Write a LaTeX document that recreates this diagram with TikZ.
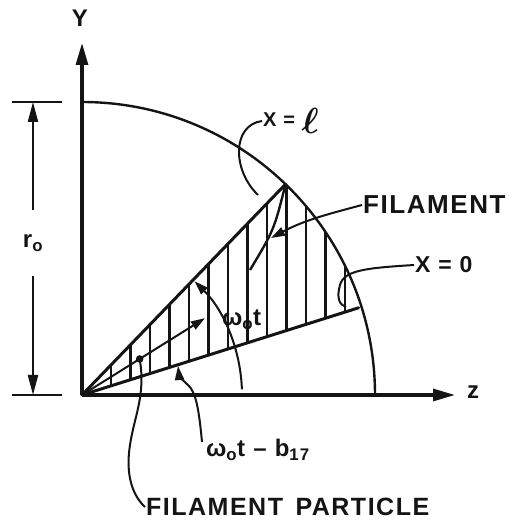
\documentclass[tikz,border=0pt]{standalone}
\usepackage{fontspec}
\setmainfont{Liberation Sans}[LetterSpace=6]
\usetikzlibrary{arrows.meta}
\definecolor{ink}{HTML}{141414}

\begin{document}
\begin{tikzpicture}[
  x=1pt, y=1pt,
  font=\bfseries\fontsize{24}{28}\selectfont,
  >={Triangle[length=14pt,width=9pt]},
  axis/.style={line width=3.1pt, ink, -{Triangle[length=22pt,width=12pt]}},
  side/.style={line width=3pt, ink, line cap=round},
  rim/.style={line width=2.4pt, ink},
  hatch/.style={line width=2.2pt, ink},
  lead/.style={line width=2pt, ink},
  dim/.style={line width=2.1pt, ink, -{Triangle[length=20pt,width=10pt]}},
  lab/.style={inner sep=1pt, text=ink, anchor=west}
]
\useasboundingbox (-82,-126) rectangle (444,395);
\coordinate (O) at (0,0);
% ---------------------------------------------------------------- axes
\draw[axis] (O) -- (0,352) coordinate (ytip);
\draw[axis] (O) -- (373,0) coordinate (ztip);
\node[lab, anchor=center] (ylab) at (-2,377) {Y};
\node[lab, anchor=center] (zlab) at (391,3) {z};
\draw[rim] (0,293) arc[start angle=90, end angle=0, radius=293];

% ---------------------------------------------------------------- hatched filament plane
\foreach \k in {0,...,12}{
  \pgfmathsetmacro\hx{29+19.5*\k}
  \pgfmathsetmacro\hlo{\hx*tan(17.5)}
  \pgfmathsetmacro\hhi{min(\hx*tan(46),100*sqrt(2.93*2.93-(\hx/100)^2))}
  \draw[hatch] (\hx,\hlo) -- (\hx,\hhi);
}
\draw[side] (O) -- (46:293) coordinate (tip);
\draw[side] (O) -- (17.5:290) coordinate (low);
\draw[lead, line width=2.4pt] (tip) .. controls (192,165) .. (168,125) coordinate (fend);

% particle ray and angles
\coordinate (part) at (32:68);
\draw[lead, ->] (O) -- (32:145) coordinate (rayend);
\fill[ink] (part) circle (3.8pt);
\draw[lead, ->] (2:160) arc[start angle=2, end angle=45.3, radius=160];
\node[lab] (wt) at (139,75) {ω\textsubscript{o}t};

% ---------------------------------------------------------------- r_o dimension
\draw[lead] (-70,293) -- (-20,293);
\draw[lead] (-70,0) -- (-20,0);
\node[lab, anchor=center, minimum height=66pt, inner sep=0pt] (r0) at (-49,152) {r\textsubscript{o}};
\draw[dim] (r0.north) -- (r0.north |- 0,293);
\draw[dim] (r0.south) -- (r0.south |- O);

% ---------------------------------------------------------------- labels and leaders
\node[lab, font=\bfseries\fontsize{20}{24}\selectfont] (xl) at (180,274)
  {X = \raisebox{-7pt}{\scalebox{1.75}{\mathversion{bold}$\ell$}}};
\draw[lead] (xl.west) .. controls (150,270) and (150,225) .. (176,200);

\node[lab, font=\bfseries\fontsize{26}{30}\selectfont] (fil) at (280,190) {FILAMENT};
\draw[lead, ->] (fil.west) to[out=195, in=28] (189,157);

\node[lab, font=\bfseries\fontsize{23}{26}\selectfont] (x0) at (332,130) {X = 0};
\draw[lead] (x0.west) .. controls (285,127) and (262,125) .. (258,110)
  .. controls (254,96) and (258,90) .. (264,88);

\node[lab] (wb) at (123,-55) {ω\textsubscript{o}t -- b\textsubscript{17}};
\draw[lead, ->] ([shift={(-3,8)}]wb.west) .. controls (117,-15) and (114,3) .. (106,10)
  .. controls (100,15) and (97,20) .. (96,29);

\node[lab, font=\bfseries\fontsize{25}{30}\selectfont] (fp) at (63,-112) {FILAMENT\enspace PARTICLE};
\draw[lead] (fp.west) .. controls (48,-98) and (44,-75) .. (48,-50)
  .. controls (52,-22) and (64,0) .. (part);
\end{tikzpicture}
\end{document}
